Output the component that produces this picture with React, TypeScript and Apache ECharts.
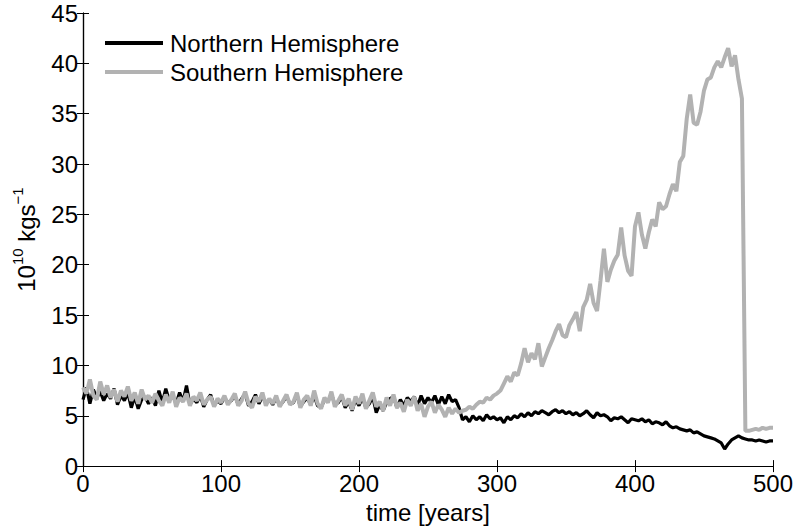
import React, { useEffect, useRef } from "react";
import * as echarts from "echarts";

const STEP = 2.5;

const southern: number[] = [
  7.8, 7.2, 8.6, 7.0, 6.6, 8.4, 7.1, 8.0, 6.8, 7.6, 6.4, 7.5, 6.9, 7.9, 6.5, 7.3, 6.2, 7.6, 6.6, 7.0, 6.3,
  7.2, 6.5, 6.0, 7.1, 6.3, 7.4, 5.9, 6.8, 6.4, 7.2, 6.0, 6.9, 6.5, 7.3, 6.1, 6.6, 6.9, 5.9, 6.7, 6.3,
  7.0, 6.1, 6.6, 7.2, 6.0, 6.5, 7.4, 6.2, 5.8, 6.9, 6.4, 7.3, 6.0, 6.7, 6.2, 7.0, 5.9, 6.5, 7.1, 6.1,
  6.4, 7.3, 5.8, 6.6, 7.0, 6.0, 7.5, 6.2, 5.7, 6.8, 6.3, 7.4, 5.9, 6.5, 7.1, 6.0, 6.7, 5.6, 6.9, 6.2,
  7.2, 5.7, 6.5, 7.3, 5.9, 6.4, 5.5, 6.8, 6.0, 7.1, 5.8, 6.3, 5.4, 6.6, 6.0, 6.9, 5.5, 6.2, 4.9, 5.9,
  6.4, 5.3, 6.1, 5.6, 4.9, 5.8, 5.2, 5.7, 5.3, 5.5, 5.6, 5.9, 5.7, 6.1, 6.4, 6.3, 6.8, 6.6, 7.0, 7.2,
  7.5, 8.2, 8.9, 8.4, 9.3, 9.0, 10.2, 11.7, 10.3, 11.2, 10.6, 12.2, 9.9, 10.8, 11.7, 12.5, 13.4, 14.1, 13.0, 12.8,
  14.0, 14.6, 15.3, 13.4, 15.8, 16.5, 18.1, 16.2, 15.4, 18.4, 21.6, 18.3, 19.5, 20.4, 21.0, 23.7, 20.9, 19.4, 18.9, 23.8,
  25.2, 23.0, 21.6, 23.2, 24.5, 23.8, 26.2, 25.5, 25.8, 27.0, 28.0, 27.3, 30.2, 30.8, 34.5, 36.9, 34.1, 33.9, 35.2, 37.3,
  38.4, 38.6, 39.6, 40.2, 39.6, 40.6, 41.5, 39.7, 40.8, 38.4, 36.5, 3.5, 3.5, 3.6, 3.7, 3.6, 3.8, 3.7, 3.8, 3.8,
];

const northern: number[] = [
  6.6, 7.8, 6.2, 7.6, 6.8, 7.4, 6.5, 7.2, 6.7, 7.7, 6.1, 7.0, 6.5, 7.3, 5.8, 6.9, 5.7, 6.6, 6.9, 6.2, 6.8,
  6.0, 7.5, 6.3, 7.7, 6.5, 7.0, 6.2, 7.3, 6.4, 8.0, 6.1, 6.7, 6.3, 7.0, 5.9, 6.6, 7.1, 6.0, 6.5, 6.2,
  6.8, 6.3, 6.5, 7.0, 6.1, 6.7, 7.2, 6.0, 6.4, 7.1, 6.2, 6.9, 6.3, 6.6, 6.1, 6.8, 6.0, 6.4, 6.9, 6.2,
  6.3, 7.1, 5.9, 6.4, 6.8, 6.1, 7.0, 6.0, 5.8, 6.6, 6.4, 7.2, 6.1, 6.3, 6.9, 5.8, 6.4, 5.5, 6.6, 6.0,
  6.8, 5.8, 6.2, 6.9, 5.3, 6.1, 5.5, 6.3, 6.7, 6.9, 5.8, 6.6, 6.0, 6.8, 6.4, 6.9, 6.0, 7.0, 6.2, 6.8,
  6.3, 7.0, 6.1, 6.9, 6.2, 7.1, 6.4, 6.6, 5.8, 4.6, 4.9, 4.4, 5.0, 4.6, 4.9, 4.5, 5.1, 4.7, 4.9, 4.6,
  4.8, 4.3, 4.9, 4.6, 5.0, 4.8, 5.2, 4.9, 5.3, 5.0, 5.4, 5.2, 5.5, 5.3, 5.1, 5.4, 5.6, 5.3, 5.5, 5.2,
  5.4, 5.1, 5.3, 5.0, 5.2, 5.5, 5.1, 4.8, 5.3, 5.0, 5.1, 4.9, 4.5, 4.8, 4.7, 4.9, 4.6, 4.3, 4.7, 4.6,
  4.5, 4.7, 4.4, 4.6, 4.2, 4.4, 4.3, 4.1, 4.4, 4.0, 3.8, 3.9, 3.7, 3.6, 3.5, 3.6, 3.3, 3.4, 3.2, 3.0,
  2.9, 2.8, 2.7, 2.5, 2.3, 1.7, 2.2, 2.6, 2.8, 3.0, 2.8, 2.7, 2.6, 2.6, 2.5, 2.6, 2.5, 2.4, 2.5, 2.5,
];

const years: number[] = southern.map((_, i) => i * STEP);

const xTicks = { min: 0, max: 500, interval: 100 };
const yTicks = { min: 0, max: 45, interval: 5 };

const FONT = "'Liberation Sans', Arial, Helvetica, sans-serif";
const FS = 24;

export default function App() {
  const ref = useRef<HTMLDivElement>(null);
  useEffect(() => {
    if (!ref.current) return;
    const chart = echarts.init(ref.current, undefined, { renderer: "svg" });
    const tick = { show: true, inside: true, length: 6, lineStyle: { color: "#000", width: 1 } };
    const line = { show: true, lineStyle: { color: "#000", width: 1.2 } };
    const label = { color: "#000", fontSize: FS, fontFamily: FONT };
    chart.setOption({
      animation: false,
      backgroundColor: "#fff",
      textStyle: { fontFamily: FONT },
      grid: { left: 83, top: 13, right: 21, bottom: 61, containLabel: false },
      legend: {
        orient: "vertical",
        left: 100,
        top: 26,
        icon: "rect",
        itemWidth: 58,
        itemHeight: 4,
        itemGap: 5,
        textStyle: { color: "#000", fontSize: FS, fontFamily: FONT, padding: [0, 0, 0, 2] },
        data: ["Northern Hemisphere", "Southern Hemisphere"],
      },
      xAxis: [
        {
          type: "value",
          ...xTicks,
          position: "bottom",
          axisLine: line,
          axisTick: tick,
          splitLine: { show: false },
          axisLabel: { ...label, margin: 5 },
          name: "time [years]",
          nameLocation: "middle",
          nameGap: 33,
          nameTextStyle: { ...label },
        },
        {
          type: "value",
          ...xTicks,
          position: "top",
          axisLine: line,
          axisTick: tick,
          splitLine: { show: false },
          axisLabel: { show: false },
        },
      ],
      yAxis: [
        {
          type: "value",
          ...yTicks,
          position: "left",
          axisLine: line,
          axisTick: tick,
          splitLine: { show: false },
          axisLabel: { ...label, margin: 5 },
          name: "10{sup|10} kgs{sup|−1}",
          nameLocation: "middle",
          nameGap: 41,
          nameTextStyle: {
            ...label,
            rich: {
              sup: { fontSize: 15, fontFamily: FONT, color: "#000", verticalAlign: "top", lineHeight: 32 },
            },
          },
        },
        {
          type: "value",
          ...yTicks,
          position: "right",
          axisLine: line,
          axisTick: tick,
          splitLine: { show: false },
          axisLabel: { show: false },
        },
      ],
      series: [
        {
          name: "Northern Hemisphere",
          type: "line",
          showSymbol: false,
          data: years.map((t, i) => [t, northern[i]]),
          itemStyle: { color: "#000" },
          lineStyle: { color: "#000", width: 3.2 },
        },
        {
          name: "Southern Hemisphere",
          type: "line",
          showSymbol: false,
          data: years.map((t, i) => [t, southern[i]]),
          itemStyle: { color: "#b2b2b2" },
          lineStyle: { color: "#b2b2b2", width: 4 },
        },
      ],
    });
    return () => chart.dispose();
  }, []);
  return (
    <div
      ref={ref}
      style={{ position: "absolute", left: 0, top: 0, width: 796, height: 529, background: "#fff" }}
    />
  );
}
